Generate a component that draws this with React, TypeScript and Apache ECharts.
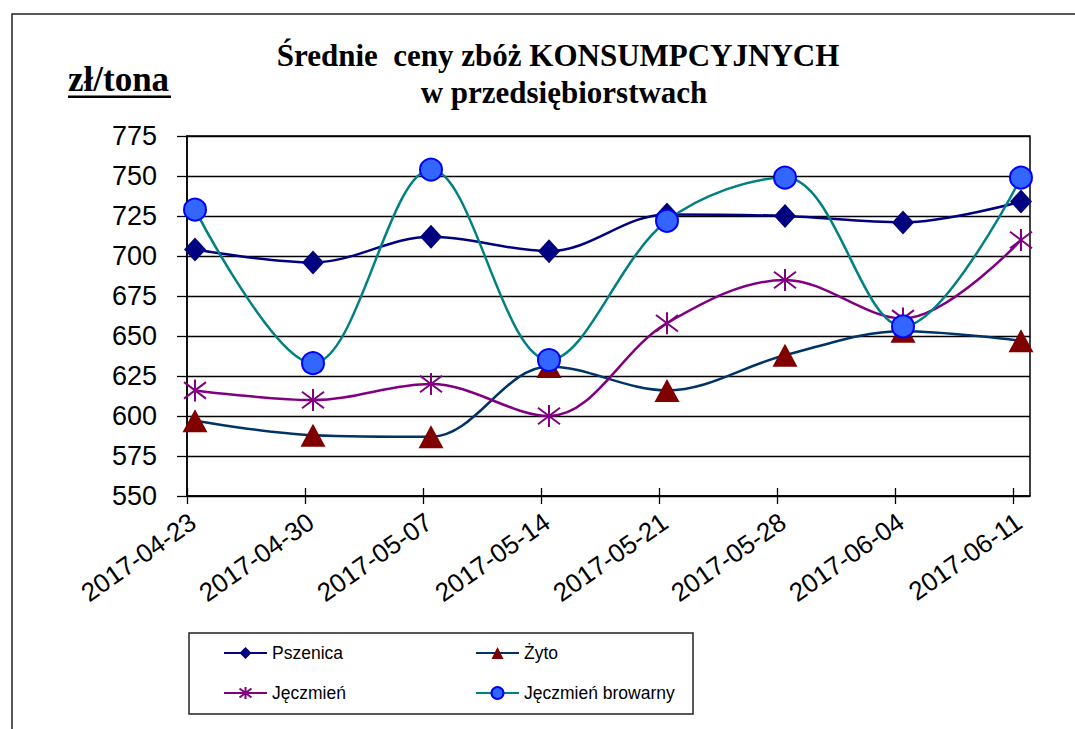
import React, { useEffect, useRef } from 'react';
import * as echarts from 'echarts';

const categories = ['2017-04-23', '2017-04-30', '2017-05-07', '2017-05-14', '2017-05-21', '2017-05-28', '2017-06-04', '2017-06-11'];
const pszenica = [704, 696, 712, 703, 726, 725, 721, 734];
const zyto = [597, 588, 587, 631, 616, 638, 653, 647];
const jeczmien = [616, 610, 620, 600, 658, 685, 661, 710];
const jeczmienBrowarny = [729, 633, 754, 635, 722, 749, 656, 749];
const seriesNames = ['Pszenica', 'Żyto', 'Jęczmień', 'Jęczmień browarny'];
const yMin = 550;
const yMax = 775;
const yStep = 25;
const titleLine1 = 'Średnie  ceny zbóż KONSUMPCYJNYCH';
const titleLine2 = 'w przedsiębiorstwach';
const unitLabel = 'zł/tona';

const STAR = 'path://M12,0 L12,24 M2,3 L22,21 M2,21 L22,3';

export default function App() {
  const ref = useRef<HTMLDivElement>(null);
  useEffect(() => {
    if (!ref.current) return;
    const chart = echarts.init(ref.current, null, { renderer: 'svg' });
    const gridLeft = 187, gridTop = 136, gridRightPx = 1030, gridBottomPx = 496;
    const plotW = gridRightPx - gridLeft;
    const step = 118;
    const markerShift = 8;
    const labelShift = 6;
    const idx = categories.map((_, i) => i);
    const sans = '"Liberation Sans", Arial, sans-serif';
    const serif = '"Liberation Serif", "Times New Roman", serif';
    const toPairs = (arr: number[]) => arr.map((v, i) => [i, v]);

    const mkLine = (name: string, data: number[], symbol: string, symbolSize: any, lineColor: string, itemStyle: any) => ({
      name,
      type: 'line',
      xAxisIndex: 0,
      data: toPairs(data),
      smooth: 0.35,
      symbol,
      symbolSize,
      showAllSymbol: true,
      clip: false,
      lineStyle: { color: lineColor, width: 2.5 },
      itemStyle,
      emphasis: { disabled: true },
    });

    const legendCommon = {
      orient: 'vertical',
      itemWidth: 43,
      itemHeight: 15,
      itemGap: 20,
      padding: 0,
      selectedMode: false,
      textStyle: { fontSize: 17.5, color: '#000', fontFamily: sans, lineHeight: 20 },
    };

    chart.setOption({
      animation: false,
      backgroundColor: '#fff',
      grid: {
        left: gridLeft,
        top: gridTop,
        right: 1075 - gridRightPx,
        bottom: 729 - gridBottomPx,
        show: true,
        borderColor: '#000',
        borderWidth: 1.5,
      },
      legend: [
        { ...legendCommon, data: [seriesNames[0], seriesNames[2]], left: 223, top: 643 },
        { ...legendCommon, data: [seriesNames[1], seriesNames[3]], left: 475, top: 643 },
      ],
      xAxis: [
        {
          type: 'value',
          min: -markerShift / step,
          max: (plotW - markerShift) / step,
          show: false,
        },
        {
          type: 'value',
          position: 'bottom',
          min: 0,
          max: plotW / step,
          axisLine: { show: true, onZero: false, lineStyle: { color: '#000', width: 1.5 } },
          axisTick: { show: true, inside: false, length: 8, customValues: idx, lineStyle: { color: '#000', width: 1.3 } },
          axisLabel: { show: false },
          splitLine: { show: false },
        },
        {
          type: 'value',
          position: 'bottom',
          min: 0,
          max: plotW / step,
          axisLine: { show: false, onZero: false },
          axisTick: { show: true, inside: true, length: 8, customValues: idx, lineStyle: { color: '#000', width: 1.3 } },
          axisLabel: { show: false },
          splitLine: { show: false },
        },
        {
          type: 'value',
          position: 'bottom',
          min: -labelShift / step,
          max: (plotW - labelShift) / step,
          axisLine: { show: false, onZero: false },
          axisTick: { show: false },
          splitLine: { show: false },
          axisLabel: {
            show: true,
            customValues: idx,
            formatter: (v: number) => categories[Math.round(v)] ?? '',
            rotate: 35,
            margin: 23,
            fontSize: 26,
            color: '#000',
            fontFamily: sans,
          },
        },
      ],
      yAxis: {
        type: 'value',
        min: yMin,
        max: yMax,
        interval: yStep,
        axisLine: { show: true, onZero: false, lineStyle: { color: '#000', width: 1.5 } },
        axisTick: { show: true, inside: false, length: 10, lineStyle: { color: '#000', width: 1.3 } },
        axisLabel: { margin: 30, fontSize: 27, color: '#000', fontFamily: sans },
        splitLine: { show: true, lineStyle: { color: '#000', width: 1.3 } },
      },
      series: [
        mkLine(seriesNames[0], pszenica, 'diamond', [22, 24], '#000080', { color: '#000080' }),
        mkLine(seriesNames[1], zyto, 'triangle', [25, 23], '#003366', { color: '#800000' }),
        mkLine(seriesNames[2], jeczmien, STAR, 22, '#800080', { color: '#800080', borderColor: '#800080', borderWidth: 2 }),
        mkLine(seriesNames[3], jeczmienBrowarny, 'circle', 22, '#008080', { color: '#3366ff', borderColor: '#0000ff', borderWidth: 2 }),
      ],
      graphic: [
        { type: 'rect', silent: true, z: 0, shape: { x: 12, y: 14, width: 1100, height: 800 }, style: { fill: 'none', stroke: '#222', lineWidth: 1.5 } },
        { type: 'rect', silent: true, z: 0, shape: { x: 189, y: 633, width: 504, height: 81 }, style: { fill: 'none', stroke: '#222', lineWidth: 1.5 } },
        { type: 'text', silent: true, z: 10, style: { text: titleLine1, x: 558, y: 55, textAlign: 'center', textVerticalAlign: 'middle', font: `bold 31px ${serif}`, fill: '#000' } },
        { type: 'text', silent: true, z: 10, style: { text: titleLine2, x: 564, y: 92, textAlign: 'center', textVerticalAlign: 'middle', font: `bold 31px ${serif}`, fill: '#000' } },
        { type: 'text', silent: true, z: 10, style: { text: unitLabel, x: 68, y: 79, textAlign: 'left', textVerticalAlign: 'middle', font: `bold 35px ${serif}`, fill: '#000' } },
        { type: 'rect', silent: true, z: 10, shape: { x: 68, y: 95.5, width: 103, height: 2.5 }, style: { fill: '#000' } },
      ],
    });
    return () => chart.dispose();
  }, []);
  return <div ref={ref} style={{ position: 'absolute', left: 0, top: 0, width: 1075, height: 729, background: '#fff' }} />;
}
